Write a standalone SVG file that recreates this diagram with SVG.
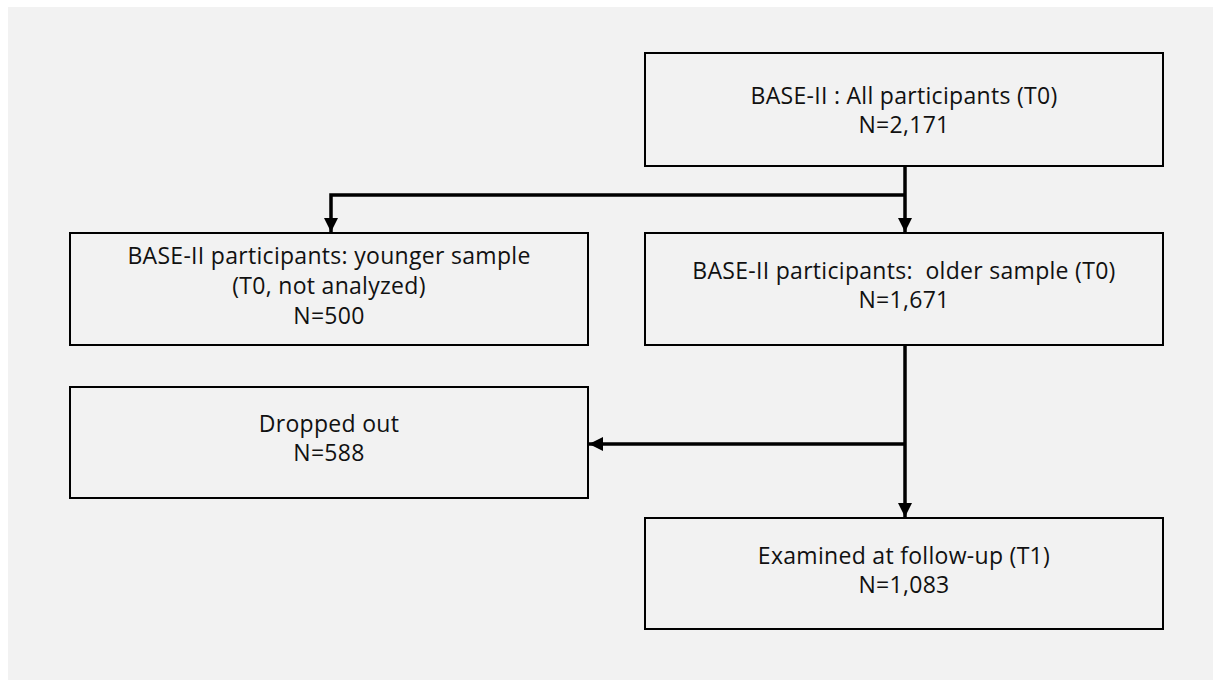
<svg xmlns="http://www.w3.org/2000/svg" width="1213" height="680" viewBox="0 0 1213 680">
<defs>
<style>
.box{fill:#f2f2f2;stroke:#000;stroke-width:2}
.t{font-family:"Open Sans","Liberation Sans",sans-serif;font-size:23px;letter-spacing:0.3px;fill:#111;text-anchor:middle}
.c{fill:none;stroke:#000;stroke-width:3.5}
</style>
<marker id="ah" viewBox="0 0 10 10" refX="10" refY="5" markerWidth="4" markerHeight="4" markerUnits="strokeWidth" orient="auto">
<path d="M0,0 L10,5 L0,10 z" fill="#000"/>
</marker>
</defs>
<rect x="0" y="0" width="1213" height="680" fill="#fff"/>
<rect x="8" y="7" width="1205" height="673" fill="#f2f2f2"/>
<g id="connectors">
<path class="c" d="M905,166 V232" marker-end="url(#ah)"/>
<path class="c" d="M905,195 H331 V232" marker-end="url(#ah)"/>
<path class="c" d="M905,345 V517" marker-end="url(#ah)"/>
<path class="c" d="M905,444 H589" marker-end="url(#ah)"/>
</g>
<g id="all">
<rect class="box" x="645" y="53" width="518" height="113"/>
<text class="t" x="904" y="104">BASE-II : All participants (T0)</text>
<text class="t" x="904" y="133">N=2,171</text>
</g>
<g id="younger">
<rect class="box" x="70" y="233" width="518" height="112"/>
<text class="t" x="329" y="264">BASE-II participants: younger sample</text>
<text class="t" x="329" y="294">(T0, not analyzed)</text>
<text class="t" x="329" y="324">N=500</text>
</g>
<g id="older">
<rect class="box" x="645" y="233" width="518" height="112"/>
<text class="t" x="904" y="279" xml:space="preserve">BASE-II participants:  older sample (T0)</text>
<text class="t" x="904" y="308">N=1,671</text>
</g>
<g id="dropped">
<rect class="box" x="70" y="387" width="518" height="111"/>
<text class="t" x="329" y="432">Dropped out</text>
<text class="t" x="329" y="461">N=588</text>
</g>
<g id="examined">
<rect class="box" x="645" y="518" width="518" height="111"/>
<text class="t" x="904" y="564">Examined at follow-up (T1)</text>
<text class="t" x="904" y="593">N=1,083</text>
</g>
</svg>
